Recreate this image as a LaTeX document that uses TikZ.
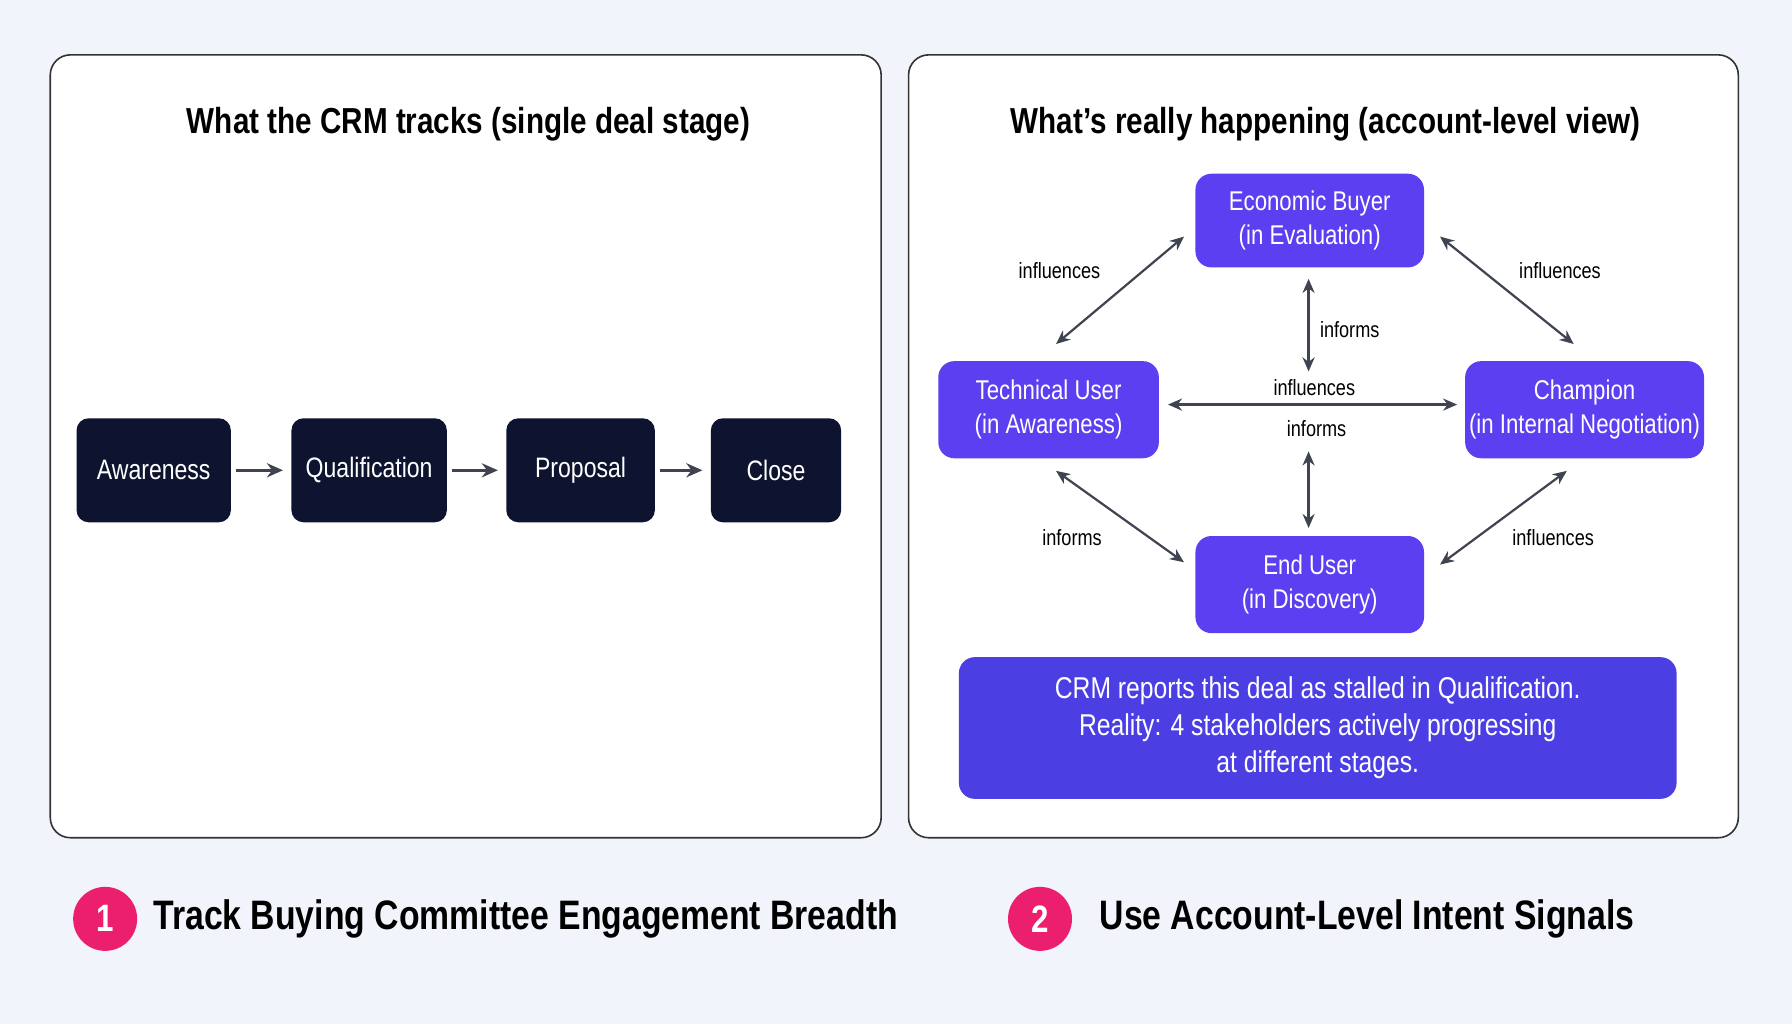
\documentclass[tikz,border=0pt]{standalone}
\usepackage{fontspec}
\setmainfont[FakeStretch=0.82]{Liberation Sans}
\usetikzlibrary{arrows.meta}
\definecolor{bg}{HTML}{F1F4FB}
\definecolor{navy}{HTML}{0E1430}
\definecolor{purp}{HTML}{5B3FF0}
\definecolor{purp2}{HTML}{4B3FE4}
\definecolor{pink}{HTML}{EC1F6E}
\definecolor{arr}{HTML}{3F4450}
\begin{document}
\begin{tikzpicture}[x=0.02cm,y=-0.02cm,
 panel/.style={draw=black!80,line width=0.8pt,fill=white,rounded corners=10},
 dark/.style={fill=navy,rounded corners=6,text=white,font=\fontsize{14}{15}\selectfont,inner sep=0pt},
 pnode/.style={fill=purp,rounded corners=8,text=white,font=\fontsize{13.5}{17}\selectfont,inner sep=0pt,align=center},
 lbl/.style={font=\fontsize{11}{12}\selectfont,text=black},
 ttl/.style={font=\bfseries\fontsize{18}{20}\selectfont},
 ar/.style={-{Stealth[length=8pt,width=7pt]},draw=arr,line width=1.4pt},
 dar/.style={{Stealth[length=7pt,width=6pt]}-{Stealth[length=7pt,width=6pt]},draw=arr,line width=1.1pt},
 foot/.style={font=\bfseries\fontsize{20.5}{24}\selectfont,anchor=west}]
\fill[bg] (0,0) rectangle (1568,896);
\useasboundingbox (0,0) rectangle (1568,896);
\draw[panel] (44,48) rectangle (771,733);
\draw[panel] (795,48) rectangle (1521,733);
\node[ttl] (t1) at (410,109) {What the CRM tracks (single deal stage)};
\node[ttl] (t2) at (1160,109) {What’s really happening (account-level view)};
% left flow
\node[dark,minimum width=135*0.02cm,minimum height=91*0.02cm] (a) at (134.5,411.5) {Awareness};
\node[dark,minimum width=136*0.02cm,minimum height=91*0.02cm] (q) at (323,411.5) {Qualification};
\node[dark,minimum width=130*0.02cm,minimum height=91*0.02cm] (p) at (508,411.5) {Proposal};
\node[dark,minimum width=114*0.02cm,minimum height=91*0.02cm] (c) at (679,411.5) {Close};
\draw[ar] (a.east)++(4,0) -- ([xshift=-4]q.west);
\draw[ar] (q.east)++(4,0) -- ([xshift=-4]p.west);
\draw[ar] (p.east)++(4,0) -- ([xshift=-4]c.west);
% right graph
\node[pnode,minimum width=200*0.02cm,minimum height=82*0.02cm] (eb) at (1146,193) {Economic Buyer\\(in Evaluation)};
\node[pnode,minimum width=193*0.02cm,minimum height=85*0.02cm] (tu) at (917.5,358.5) {Technical User\\(in Awareness)};
\node[pnode,minimum width=209*0.02cm,minimum height=85*0.02cm] (ch) at (1386.5,358.5) {Champion\\(in Internal Negotiation)};
\node[pnode,minimum width=200*0.02cm,minimum height=85*0.02cm] (eu) at (1146,511.5) {End User\\(in Discovery)};
\coordinate (c1) at (924,301); \coordinate (c2) at (1036,207);
\draw[dar] (c1) -- (c2);
\coordinate (c3) at (1260,207); \coordinate (c4) at (1377,301);
\draw[dar] (c3) -- (c4);
\coordinate (c5) at (1145,244); \coordinate (c6) at (1145,325);
\draw[dar] (c5) -- (c6);
\coordinate (c7) at (1022,354); \coordinate (c8) at (1275,354);
\draw[dar] (c7) -- (c8);
\coordinate (c9) at (1145,395); \coordinate (c10) at (1145,462);
\draw[dar] (c9) -- (c10);
\coordinate (c11) at (924,412); \coordinate (c12) at (1036,492);
\draw[dar] (c11) -- (c12);
\coordinate (c13) at (1371,412); \coordinate (c14) at (1260,494);
\draw[dar] (c13) -- (c14);
\node[lbl] (l1) at (927,237) {influences};
\node[lbl] (l2) at (1365,237) {influences};
\node[lbl] (l3) at (1181,288) {informs};
\node[lbl] (l4) at (1150,339) {influences};
\node[lbl] (l5) at (1152,375) {informs};
\node[lbl] (l6) at (938,470) {informs};
\node[lbl] (l7) at (1359,470) {influences};
\node[fill=purp2,rounded corners=8,minimum width=628*0.02cm,minimum height=124*0.02cm,text=white,align=center,font=\fontsize{15}{18.5}\selectfont] (box) at (1153,637) {CRM reports this deal as stalled in Qualification.\\Reality: 4 stakeholders actively progressing\\at different stages.};
% footer
\node[circle,fill=pink,minimum size=56*0.02cm,text=white,font=\bfseries\fontsize{19}{22}\selectfont,inner sep=0pt] (n1) at (92,804) {1};
\node[foot] (f1) at (128,804) {Track Buying Committee Engagement Breadth};
\node[circle,fill=pink,minimum size=56*0.02cm,text=white,font=\bfseries\fontsize{19}{22}\selectfont,inner sep=0pt] (n2) at (910,804) {2};
\node[foot] (f2) at (956,804) {Use Account-Level Intent Signals};
\end{tikzpicture}
\end{document}
